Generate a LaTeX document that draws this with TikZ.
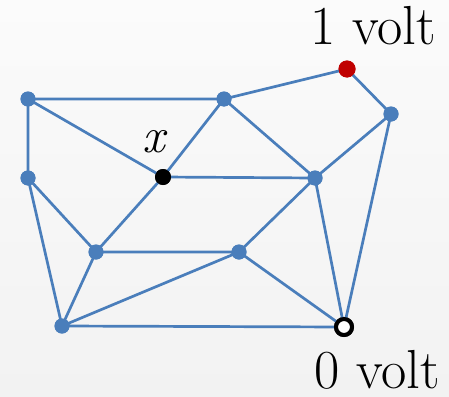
\documentclass[tikz,border=0pt]{standalone}
\usepackage{fontspec}
\definecolor{edgeblue}{RGB}{74,126,187}
\definecolor{dotred}{RGB}{192,0,0}
\definecolor{bgtop}{RGB}{251,251,251}
\definecolor{bgbot}{RGB}{242,242,242}
\begin{document}
\begin{tikzpicture}[x=1pt,y=-1pt,
  vtx/.style={circle,fill=edgeblue,inner sep=0pt,minimum size=15pt},
  src/.style={circle,fill=dotred,inner sep=0pt,minimum size=17pt},
  xvtx/.style={circle,fill=black,inner sep=0pt,minimum size=16pt},
  gnd/.style={circle,draw=black,line width=4pt,fill=white,inner sep=0pt,minimum size=16pt},
  wire/.style={draw=edgeblue,line width=2.7pt},
  lbl/.style={font=\fontsize{55}{58}\selectfont,inner sep=0pt}]
\shade[top color=bgtop,bottom color=bgbot] (0,0) rectangle (449,396);
\useasboundingbox (0,0) rectangle (449,396);
\node[vtx] (A) at (28,99) {};
\node[vtx] (B) at (224,99) {};
\node[src] (C) at (347,69) {};
\node[vtx] (D) at (391,114) {};
\node[vtx] (E) at (28,178) {};
\node[xvtx] (X) at (163,177) {};
\node[vtx] (F) at (315,178) {};
\node[vtx] (G) at (96,252) {};
\node[vtx] (H) at (239,252) {};
\node[vtx] (I) at (62,326) {};
\node[gnd] (J) at (344,327) {};
\path[wire] (A.center)--(B.center) (A.center)--(E.center) (A.center)--(X.center)
  (B.center)--(C.center) (B.center)--(X.center) (B.center)--(F.center)
  (C.center)--(D.center) (D.center)--(F.center) (D.center)--(J.center)
  (E.center)--(G.center) (E.center)--(I.center)
  (X.center)--(F.center) (X.center)--(G.center)
  (F.center)--(H.center) (F.center)--(J.center)
  (G.center)--(H.center) (G.center)--(I.center)
  (H.center)--(I.center) (H.center)--(J.center)
  (I.center)--(J.center);
\node[vtx] at (A) {};
\node[vtx] at (B) {};
\node[src] at (C) {};
\node[vtx] at (D) {};
\node[vtx] at (E) {};
\node[xvtx] at (X) {};
\node[vtx] at (F) {};
\node[vtx] at (G) {};
\node[vtx] at (H) {};
\node[vtx] at (I) {};
\node[gnd] at (J) {};
\node[lbl,anchor=base west] (t1) at (310,45) {1 volt};
\node[lbl,anchor=base west] (t0) at (314,388) {0 volt};
\node[lbl,anchor=base west,font=\fontsize{50}{52}\selectfont\itshape] (tx) at (142,152) {x};
\end{tikzpicture}
\end{document}
